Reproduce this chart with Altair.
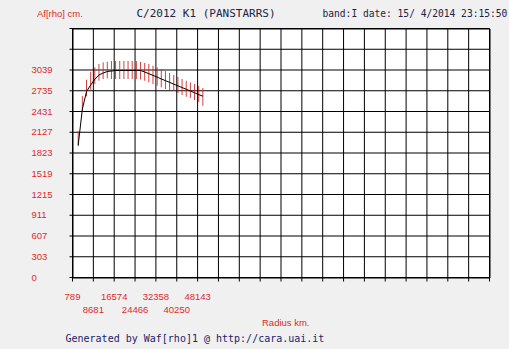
import altair as alt
import pandas as pd

# ---- data ----
radius_km = [2946, 4519, 6091, 7664, 9237, 10810, 12382, 13955, 15528, 17100,
             18673, 20246, 21819, 23391, 24964, 26537, 28109, 29682, 31255, 32828,
             34400, 35973, 37546, 39118, 40691, 42264, 43837, 45409, 46982, 48555, 50127]
afrho = [1938, 2466, 2723, 2819, 2902, 2966, 2995, 3017, 3024, 3032,
         3032, 3032, 3032, 3032, 3032, 3032, 3010, 2985, 2960, 2935,
         2908, 2883, 2858, 2832, 2807, 2782, 2757, 2731, 2706, 2679, 2656]
err_top = [2143, 2657, 2897, 3014, 3079, 3127, 3152, 3161, 3171, 3171,
           3171, 3171, 3171, 3171, 3171, 3156, 3142, 3127, 3102, 3079,
           3054, 3024, 2995, 2966, 2936, 2907, 2882, 2858, 2833, 2808, 2775]
err_bottom = [1923, 2422, 2653, 2750, 2833, 2882, 2907, 2917, 2907, 2907,
              2907, 2907, 2907, 2907, 2907, 2899, 2882, 2858, 2833, 2808,
              2785, 2760, 2745, 2731, 2701, 2672, 2647, 2628, 2599, 2569, 2515]

x_label_values = [789, 8681, 16574, 24466, 32358, 40250, 48143]
x_label_text = ["789", "8681", "16574", "24466", "32358", "40250", "48143"]
y_label_values = [0, 303.9, 607.8, 911.7, 1215.6, 1519.5, 1823.4, 2127.3, 2431.2, 2735.1, 3039]
y_label_text = ["0", "303", "607", "911", "1215", "1519", "1823", "2127", "2431", "2735", "3039"]

x_step = 7892.333
x_grid = [789 + k * x_step for k in range(21)]
y_step = 303.9
y_grid = [k * y_step for k in range(13)]
x_domain = [789, 789 + 20 * x_step]
y_domain = [0, 12 * y_step]

RED = "#dd2a2a"
NAVY = "#22226a"

W, H = 417, 249

df = pd.DataFrame({"km": radius_km, "afrho": afrho, "top": err_top, "bottom": err_bottom})

xscale = alt.Scale(domain=x_domain, nice=False, zero=False)
yscale = alt.Scale(domain=y_domain, nice=False, zero=False)

xaxis = alt.Axis(labels=False, ticks=False, grid=False, domain=False,
                 title="Radius km.", titleColor=RED, titleFont="Liberation Sans",
                 titleFontSize=9.5, titleFontWeight="normal", titleX=189, titleY=45,
                 titleAlign="left", titleBaseline="middle")
yaxis = alt.Axis(labels=False, ticks=False, grid=False, domain=False,
                 title="Af[rho] cm.", titleColor=RED, titleFont="Liberation Sans",
                 titleFontSize=9.5, titleFontWeight="normal", titleX=-36, titleY=-15,
                 titleAngle=0, titleAlign="left", titleBaseline="middle")

# grid lines (with their tick stubs) drawn through the scales
vgrid = alt.Chart(pd.DataFrame({"km": x_grid})).mark_rule(color="black", strokeWidth=1).encode(
    x=alt.X("km:Q", scale=xscale, axis=xaxis),
    y=alt.value(0), y2=alt.value(H + 4),
)
hgrid = alt.Chart(pd.DataFrame({"afrho": y_grid})).mark_rule(color="black", strokeWidth=1).encode(
    y=alt.Y("afrho:Q", scale=yscale, axis=yaxis),
    x=alt.value(-3), x2=alt.value(W),
)

bars = alt.Chart(df).mark_rule(color="#cc2b2b", strokeWidth=1, opacity=0.9).encode(
    x=alt.X("km:Q", scale=xscale),
    y=alt.Y("bottom:Q", scale=yscale),
    y2="top:Q",
)

line = alt.Chart(df).mark_line(color="black", strokeWidth=1).encode(
    x=alt.X("km:Q", scale=xscale),
    y=alt.Y("afrho:Q", scale=yscale),
)

ylab_df = pd.DataFrame({"afrho": y_label_values, "label": y_label_text})
ylabels = alt.Chart(ylab_df).mark_text(
    align="left", baseline="middle", color=RED, font="Liberation Sans", fontSize=9.5
).encode(x=alt.value(-41), y=alt.Y("afrho:Q", scale=yscale), text="label:N")

xlab_df = pd.DataFrame({"km": x_label_values, "label": x_label_text,
                        "row": [i % 2 for i in range(len(x_label_values))]})
xlabels_even = alt.Chart(xlab_df).transform_filter("datum.row == 0").mark_text(
    align="center", baseline="middle", color=RED, font="Liberation Sans", fontSize=9.5
).encode(x=alt.X("km:Q", scale=xscale), y=alt.value(268), text="label:N")
xlabels_odd = alt.Chart(xlab_df).transform_filter("datum.row == 1").mark_text(
    align="center", baseline="middle", color=RED, font="Liberation Sans", fontSize=9.5
).encode(x=alt.X("km:Q", scale=xscale), y=alt.value(281), text="label:N")

MONO = "DejaVu Sans Mono"
title_df = pd.DataFrame({"t": ["C/2012 K1 (PANSTARRS)"]})
title_txt = alt.Chart(title_df).mark_text(
    align="left", baseline="middle", color="#222244", font=MONO, fontSize=11
).encode(x=alt.value(64), y=alt.value(-15), text="t:N")

band_df = pd.DataFrame({"t": ["band:I date: 15/ 4/2014 23:15:50"]})
band_txt = alt.Chart(band_df).mark_text(
    align="left", baseline="middle", color="#222244", font=MONO, fontSize=9.6
).encode(x=alt.value(250), y=alt.value(-15), text="t:N")

gen_df = pd.DataFrame({"t": ["Generated by Waf[rho]1 @ http://cara.uai.it"]})
gen_txt = alt.Chart(gen_df).mark_text(
    align="left", baseline="middle", color=NAVY, font=MONO, fontSize=10
).encode(x=alt.value(-7), y=alt.value(310), text="t:N")

chart = alt.layer(
    vgrid, hgrid, bars, line, ylabels, xlabels_even, xlabels_odd, title_txt, band_txt, gen_txt
).properties(
    width=W, height=H,
    autosize=alt.AutoSizeParams(type="none"),
    padding={"left": 72.5, "top": 28.5, "right": 19.5, "bottom": 71.5},
    background="#f0f0f0",
).configure_view(fill="white", stroke="black", strokeWidth=1)

chart.save("out.html", embed_options={"renderer": "svg", "actions": False})
